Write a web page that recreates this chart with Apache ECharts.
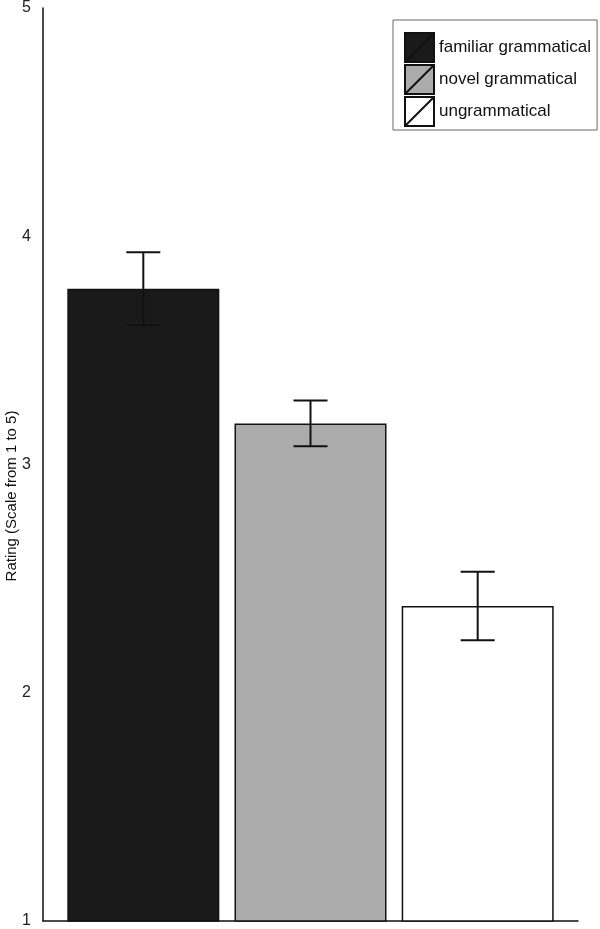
<!DOCTYPE html>
<html>
<head>
<meta charset="utf-8">
<script src="https://cdn.jsdelivr.net/npm/echarts@6/dist/echarts.min.js"></script>
<style>
  html, body { margin: 0; padding: 0; background: #fff; }
  #main { width: 600px; height: 929px; }
</style>
</head>
<body>
<div id="main"></div>
<script>
// data
const conditions = ['familiar grammatical', 'novel grammatical', 'ungrammatical'];
const positions = [1, 2, 3];
const means = [3.77, 3.18, 2.38];
const errLow = [3.61, 3.08, 2.23];
const errHigh = [3.93, 3.28, 2.53];
const fills = ['#1a1a1a', '#ababab', '#ffffff'];
const yTicks = ['1', '2', '3', '4', '5'];

const chartDom = document.getElementById('main');
const myChart = echarts.init(chartDom);

const font = 'Liberation Sans, Arial, sans-serif';

const barSeries = conditions.map((name, i) => ({
  name: name,
  type: 'bar',
  barWidth: 152,
  barGap: '-100%',
  data: [[positions[i], means[i]]],
  itemStyle: { color: fills[i], borderColor: '#111', borderWidth: 1.5 },
  silent: true
}));

const errData = positions.map((p, i) => [p, errLow[i], errHigh[i]]);

const option = {
  animation: false,
  backgroundColor: '#fff',
  textStyle: { fontFamily: font },
  grid: { left: 43, right: 22, top: 5, bottom: 7 },
  xAxis: {
    type: 'value',
    min: 0.4,
    max: 3.6,
    axisLine: { show: true, lineStyle: { color: '#111', width: 1.5 } },
    axisTick: { show: false },
    axisLabel: { show: false },
    splitLine: { show: false }
  },
  yAxis: {
    type: 'value',
    min: 1,
    max: 5,
    interval: 1,
    axisLine: { show: true, lineStyle: { color: '#111', width: 1.5 } },
    axisTick: { show: false },
    splitLine: { show: false },
    axisLabel: {
      color: '#222',
      fontSize: 16,
      fontFamily: font,
      margin: 12,
      formatter: v => yTicks[v - 1]
    }
  },
  legend: {
    orient: 'vertical',
    left: 393,
    top: 20,
    padding: [12, 6, 3, 11],
    itemWidth: 29,
    itemHeight: 29,
    itemGap: 1,
    borderColor: '#666',
    borderWidth: 1,
    icon: 'path://M0,0L10,0L10,10L0,10Z M0,10L10,0',
    textStyle: { fontSize: 17, color: '#111', fontFamily: font },
    data: conditions
  },
  graphic: [{
    type: 'text',
    x: 12,
    y: 496,
    rotation: Math.PI / 2,
    style: {
      text: 'Rating (Scale from 1 to 5)',
      fontSize: 15,
      fontFamily: font,
      fill: '#111',
      align: 'center',
      verticalAlign: 'middle'
    }
  }],
  series: barSeries.concat([{
    type: 'custom',
    name: 'error',
    silent: true,
    z: 10,
    data: errData,
    renderItem: function (params, api) {
      const x = api.value(0);
      const lo = api.coord([x, api.value(1)]);
      const hi = api.coord([x, api.value(2)]);
      const half = 17;
      const style = { stroke: '#111', lineWidth: 2 };
      return {
        type: 'group',
        children: [
          { type: 'line', shape: { x1: lo[0], y1: lo[1], x2: hi[0], y2: hi[1] }, style },
          { type: 'line', shape: { x1: hi[0] - half, y1: hi[1], x2: hi[0] + half, y2: hi[1] }, style },
          { type: 'line', shape: { x1: lo[0] - half, y1: lo[1], x2: lo[0] + half, y2: lo[1] }, style }
        ]
      };
    }
  }])
};

myChart.setOption(option);
</script>
</body>
</html>
